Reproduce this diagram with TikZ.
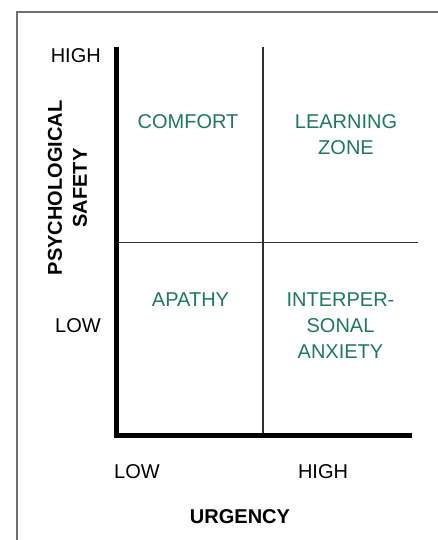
\documentclass[tikz,border=0pt]{standalone}
\usepackage{fontspec}
\setmainfont{Liberation Sans}
\definecolor{zonegreen}{HTML}{1E7A5E}
\definecolor{framegray}{HTML}{707070}
\definecolor{gridgray}{HTML}{303030}
\tikzset{
  lbl/.style={inner sep=0pt, font=\fontsize{20}{26}\selectfont, text=black},
  axtitle/.style={inner sep=0pt, font=\fontsize{20}{25}\selectfont\bfseries, text=black, align=center},
  zone/.style={inner sep=0pt, font=\fontsize{20}{26}\selectfont, text=zonegreen, align=center},
  axisline/.style={line width=4.5pt, black, line join=miter},
  gridline/.style={line width=1.2pt, gridgray},
  frameline/.style={line width=1.4pt, framegray}
}
\begin{document}
\begin{tikzpicture}[x=1pt,y=-1pt]
\useasboundingbox (0,0) rectangle (437,540);
\fill[white] (0,0) rectangle (437,540);
% frame
\coordinate (fbl) at (17,545);
\coordinate (ftl) at (17,12);
\coordinate (ftr) at (442,12);
\draw[frameline] (fbl) -- (ftl) -- (ftr);
% grid
\coordinate (vtop) at (263,47);
\coordinate (vbot) at (263,435);
\coordinate (hleft) at (116,242.7);
\coordinate (hright) at (418,242.7);
\draw[gridline] (vtop) -- (vbot);
\draw[gridline] (hleft) -- (hright);
% axes
\coordinate (ytop) at (116.5,47);
\coordinate (origin) at (116.5,435.5);
\coordinate (xend) at (412,435.5);
\draw[axisline] (ytop) -- (origin) -- (xend);
% axis labels
\node[lbl, anchor=base east] (yhigh) at (101,63) {HIGH};
\node[lbl, anchor=base east] (ylow) at (101,332) {LOW};
\node[lbl, anchor=base] (xlow) at (137,478) {LOW};
\node[lbl, anchor=base] (xhigh) at (323,478) {HIGH};
\node[axtitle, anchor=base] (xtitle) at (240,523) {URGENCY};
\node[axtitle, rotate=90] (ytitle) at (67.5,188) {PSYCHOLOGICAL\\SAFETY};
% zones
\node[zone] (comfort) at (188,121.5) {COMFORT};
\node[zone] (learning) at (346,134.2) {LEARNING\\ZONE};
\node[zone] (apathy) at (190.5,300) {APATHY};
\node[zone] (anxiety) at (340.5,326) {INTERPER-\\SONAL\\ANXIETY};
\end{tikzpicture}
\end{document}
